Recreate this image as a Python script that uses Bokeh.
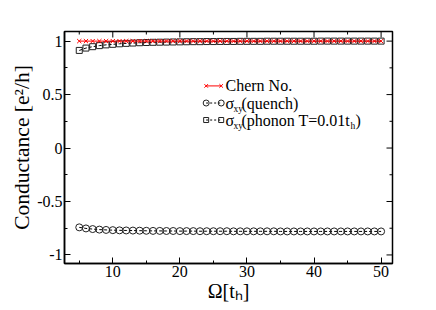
from bokeh.plotting import figure
from bokeh.models import Range1d, FixedTicker, Label
from bokeh.embed import file_html
from bokeh.resources import INLINE

# ---------------- data ----------------
omega = [5, 6, 7, 8, 9, 10, 11, 12, 13, 14, 15, 16, 17, 18, 19, 20, 21, 22, 23, 24,
         25, 26, 27, 28, 29, 30, 31, 32, 33, 34, 35, 36, 37, 38, 39, 40, 41, 42, 43, 44,
         45, 46, 47, 48, 49, 50]
chern = [1.0, 1.0, 1.0, 1.0, 1.0, 1.0, 1.0, 1.0, 1.0, 1.0, 1.0, 1.0, 1.0, 1.0, 1.0, 1.0,
         1.0, 1.0, 1.0, 1.0, 1.0, 1.0, 1.0, 1.0, 1.0, 1.0, 1.0, 1.0, 1.0, 1.0, 1.0, 1.0,
         1.0, 1.0, 1.0, 1.0, 1.0, 1.0, 1.0, 1.0, 1.0, 1.0, 1.0, 1.0, 1.0, 1.0]
quench = [-0.742, -0.752, -0.758, -0.763, -0.766, -0.768, -0.770, -0.771, -0.772, -0.773,
          -0.774, -0.775, -0.775, -0.776, -0.776, -0.777, -0.777, -0.777, -0.778, -0.778,
          -0.778, -0.778, -0.778, -0.779, -0.779, -0.779, -0.779, -0.779, -0.779, -0.779,
          -0.780, -0.780, -0.780, -0.780, -0.780, -0.780, -0.780, -0.780, -0.780, -0.780,
          -0.780, -0.780, -0.780, -0.780, -0.780, -0.780]
phonon = [0.913, 0.935, 0.948, 0.958, 0.965, 0.970, 0.975, 0.979, 0.982, 0.985,
          0.987, 0.989, 0.990, 0.991, 0.992, 0.993, 0.994, 0.995, 0.995, 0.996,
          0.996, 0.997, 0.997, 0.997, 0.998, 0.998, 0.998, 0.998, 0.999, 0.999,
          0.999, 0.999, 0.999, 0.999, 0.999, 0.999, 1.000, 1.000, 1.000, 1.000,
          1.000, 1.000, 1.000, 1.000, 1.000, 1.000]

x_major = [10, 20, 30, 40, 50]
x_minor = [5, 15, 25, 35, 45]
y_major = [-1, -0.5, 0, 0.5, 1]
y_major_labels = ["-1", "-0.5", "0", "0.5", "1"]
y_minor = [-0.75, -0.25, 0.25, 0.75]

legend_labels = ["Chern No.", "σ", "σ"]
legend_subs = ["", "xy", "xy"]
legend_tails = ["", "(quench)", "(phonon T=0.01t"]

FONT = "Liberation Serif"
X_LO, X_HI = 2.8, 51.7
Y_LO, Y_HI = -1.08, 1.09

p = figure(width=436, height=310, output_backend="svg", toolbar_location=None,
           x_range=Range1d(X_LO, X_HI), y_range=Range1d(Y_LO, Y_HI),
           min_border_left=64, min_border_right=44, min_border_top=31,
           min_border_bottom=47)
p.grid.visible = False
p.outline_line_color = "black"
p.outline_line_width = 1.5
p.background_fill_color = "white"
p.border_fill_color = "white"

xt = FixedTicker(ticks=x_major, minor_ticks=x_minor)
yt = FixedTicker(ticks=y_major, minor_ticks=y_minor)
ylab = {float(v): s for v, s in zip(y_major, y_major_labels)}

for ax in (p.xaxis[0], p.yaxis[0]):
    ax.axis_line_color = "black"
    ax.axis_line_width = 1.5
    ax.major_tick_in = 6
    ax.major_tick_out = 0
    ax.minor_tick_in = 3
    ax.minor_tick_out = 0
    ax.major_tick_line_color = "black"
    ax.minor_tick_line_color = "black"
    ax.major_tick_line_width = 1
    ax.minor_tick_line_width = 1
    ax.major_label_text_font = FONT
    ax.major_label_text_font_size = "16px"
    ax.major_label_text_color = "black"
    ax.major_label_standoff = 2
    ax.axis_label_text_font = FONT
    ax.axis_label_text_font_style = "normal"
    ax.axis_label_text_color = "black"

p.xaxis.ticker = xt
p.yaxis.ticker = yt
p.yaxis.major_label_overrides = ylab
p.yaxis.axis_label = "Conductance [e²/h]"
p.yaxis.axis_label_text_font_size = "21.5px"
p.yaxis.axis_label_standoff = 0
p.xaxis.axis_label = "Ω[tₕ]"
p.xaxis.axis_label_text_font_size = "20px"
p.xaxis.axis_label_standoff = 0

# inward ticks on the top and right frame edges (half of each dash is clipped by the frame)
p.scatter(x_major, [Y_HI] * len(x_major), marker="dash", angle=1.5708, size=12,
          line_color="black", line_width=1)
p.scatter(x_minor, [Y_HI] * len(x_minor), marker="dash", angle=1.5708, size=6,
          line_color="black", line_width=1)
p.scatter([X_HI] * len(y_major), y_major, marker="dash", size=12,
          line_color="black", line_width=1)
p.scatter([X_HI] * len(y_minor), y_minor, marker="dash", size=6,
          line_color="black", line_width=1)

# ---------------- series ----------------
p.line(omega, phonon, line_color="black", line_width=1, line_dash="3 2")
p.scatter(omega, phonon, marker="square", size=6, fill_color=None,
          line_color="#222222", line_width=1)
p.line(omega, quench, line_color="black", line_width=1, line_dash="3 2")
p.scatter(omega, quench, marker="circle", size=7, fill_color=None,
          line_color="#222222", line_width=1)
p.line(omega, chern, line_color="red", line_width=1)
p.scatter(omega, chern, marker="x", size=6, line_color="red", line_width=1)

# ---------------- legend (manual) ----------------
leg_x0, leg_x1, leg_tx = 23.92, 26.16, 26.8
rows = [0.581, 0.421, 0.262]
p.line([leg_x0, leg_x1], [rows[0], rows[0]], line_color="red", line_width=1)
p.scatter([leg_x0, leg_x1], [rows[0], rows[0]], marker="x", size=5, line_color="red")
p.line([leg_x0, leg_x1], [rows[1], rows[1]], line_color="black", line_width=1, line_dash="2 2")
p.scatter([leg_x0, leg_x1], [rows[1], rows[1]], marker="circle", size=6,
          fill_color=None, line_color="#222222")
p.line([leg_x0, leg_x1], [rows[2], rows[2]], line_color="black", line_width=1, line_dash="2 2")
p.scatter([leg_x0, leg_x1], [rows[2], rows[2]], marker="square", size=5,
          fill_color=None, line_color="#222222")


def lab(x, y, text, size, xo=0, yo=0, align="left", base="middle"):
    p.add_layout(Label(x=x, y=y, text=text, x_offset=xo, y_offset=yo,
                       text_font=FONT, text_font_size=size, text_color="black",
                       text_align=align, text_baseline=base))


lab(leg_tx, rows[0], legend_labels[0], "16px")
for i in (1, 2):
    lab(leg_tx, rows[i], legend_labels[i], "16px")
    lab(leg_tx, rows[i], legend_subs[i], "9.5px", xo=8, yo=-6)
    lab(leg_tx, rows[i], legend_tails[i], "16px", xo=16)
lab(leg_tx, rows[2], "h", "9.5px", xo=125, yo=-6)
lab(leg_tx, rows[2], ")", "16px", xo=130)

open("out.html", "w").write(file_html(p, INLINE))
